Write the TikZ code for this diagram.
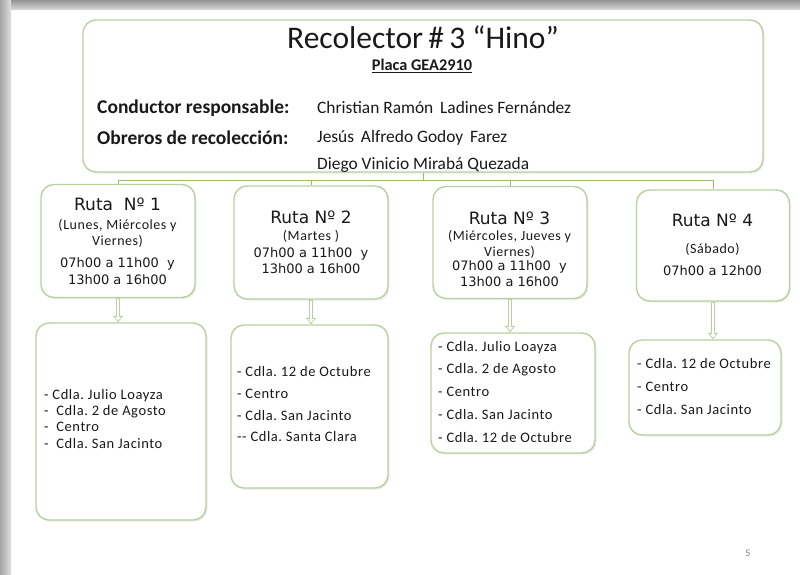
\documentclass[tikz,border=0pt]{standalone}
\usepackage{fontspec}
\setmainfont{Carlito}
\newfontfamily\dv{DejaVu Sans}
\newfontfamily\calsp[LetterSpace=4]{Carlito}
\usetikzlibrary{arrows.meta,shadows}
\definecolor{boxgreen}{RGB}{185,208,160}
\definecolor{linegreen}{RGB}{150,190,110}
\definecolor{txt}{RGB}{25,25,25}
\frenchspacing
\newcommand{\fs}[2]{\fontsize{#1}{#2}\selectfont}
\newcommand{\dys}[1]{{\calsp\fs{14}{16}#1}}
\newcommand{\hrs}[1]{{\dv\fs{13}{15}#1}}
\tikzset{
  rbox/.style={draw=boxgreen, line width=1.4pt, rounded corners=13pt, fill=white,
    drop shadow={opacity=0.15, shadow xshift=1.5pt, shadow yshift=-1.5pt},
    inner sep=0pt},
  rhead/.style={inner sep=0pt, anchor=base, text=txt, font=\dv\fs{17}{18}},
  rtext/.style={inner sep=0pt, anchor=base, text=txt, font=\fs{12}{17}},
  ltext/.style={inner sep=0pt, anchor=base west, text=txt},
  conn/.style={draw=linegreen, line width=0.8pt},
  harrowout/.style={draw=boxgreen, line width=4pt, -{Triangle[width=10pt,length=6.5pt]}},
  harrowin/.style={draw=white, line width=2pt, shorten >=1.6pt, -{Triangle[width=6pt,length=3.6pt]}},
  plain/.style={inner sep=0pt, text=txt},
}
\begin{document}
\begin{tikzpicture}[x=1pt,y=-1pt]
\useasboundingbox (0,0) rectangle (800,574);
\fill[white] (0,0) rectangle (800,574);
\shade[top color=gray!85, bottom color=gray!35] (0,0) rectangle (800,9);
\shade[left color=gray!70, right color=gray!25] (0,0) rectangle (11,574);

% main box
\node[rbox, minimum width=680pt, minimum height=152pt] (main) at (423,96) {};
\node[plain, font=\fs{31.5}{33}] (title) at (423,37) {Recolector\,\#\,3 “Hino”};
\node[plain, font=\bfseries\fs{16.3}{18}] (placa) at (422,66) {\underline{Placa GEA2910}};
\node[plain, anchor=west, font=\bfseries\fs{19.5}{20}] (cl) at (97,108) {Conductor responsable:};
\node[plain, anchor=west, font=\fs{17.4}{19}] (cv) at (317,108) {Christian Ramón\, Ladines Fernández};
\node[plain, anchor=west, font=\bfseries\fs{19.5}{20}] (ol) at (97,138) {Obreros de recolección:};
\node[plain, anchor=west, font=\fs{17.4}{19}] (ov1) at (317,138) {Jesús\, Alfredo Godoy\, Farez};
\node[plain, anchor=west, font=\fs{17.4}{19}] (ov2) at (317,165) {Diego Vinicio Mirabá Quezada};

% ruta boxes
\node[rbox, minimum width=154pt, minimum height=113pt] (r1) at (118,241) {};
\node[rbox, minimum width=154pt, minimum height=113pt] (r2) at (311,242.5) {};
\node[rbox, minimum width=154pt, minimum height=112pt] (r3) at (510,242.5) {};
\node[rbox, minimum width=153pt, minimum height=111pt] (r4) at (713,245.5) {};

\node[rhead] (r1h) at (117.5,210) {Ruta\ \ Nº 1};
\node[rtext] (r1t) at (117.5,229)
 {\begin{tabular}[t]{@{}c@{}}
  \dys{(Lunes, Miércoles y}\\[-1pt]
  \dys{Viernes)}\\[5pt]
  \hrs{07h00 a 11h00\ \ y}\\
  \hrs{13h00 a 16h00}
  \end{tabular}};
\node[rhead] (r2h) at (311,223) {Ruta Nº 2};
\node[rtext] (r2t) at (311,240)
 {\begin{tabular}[t]{@{}c@{}}
  \dys{(Martes )}\\
  \hrs{07h00 a 11h00\ \ y}\\[-1pt]
  \hrs{13h00 a 16h00}
  \end{tabular}};
\node[rhead] (r3h) at (509.5,224) {Ruta Nº 3};
\node[rtext] (r3t) at (509.5,240)
 {\begin{tabular}[t]{@{}c@{}}
  \dys{(Miércoles, Jueves y}\\[-1pt]
  \dys{Viernes)}\\[-3pt]
  \hrs{07h00 a 11h00\ \ y}\\[-1pt]
  \hrs{13h00 a 16h00}
  \end{tabular}};
\node[rhead] (r4h) at (712.5,226) {Ruta Nº 4};
\node[rtext] (r4t) at (712.5,253)
 {\begin{tabular}[t]{@{}c@{}}
  \dys{(Sábado)}\\[5pt]
  \hrs{07h00 a 12h00}
  \end{tabular}};

% connectors
\coordinate (hub) at (423,180);
\draw[conn] (main.south) -- (hub);
\draw[conn] (hub) -| (r1.north);
\draw[conn] (hub) -| (r2.north);
\draw[conn] (hub) -| (r3.north);
\draw[conn] (hub) -| (r4.north);

% list boxes
\node[rbox, minimum width=170pt, minimum height=197pt] (l1) at (121,421.5) {};
\node[rbox, minimum width=157pt, minimum height=163pt] (l2) at (309.5,406.5) {};
\node[rbox, minimum width=164pt, minimum height=120pt] (l3) at (513,393) {};
\node[rbox, minimum width=152pt, minimum height=95pt] (l4) at (705,387.5) {};

\node[ltext, font=\calsp\fs{14.5}{16.4}] (l1t) at (44,399)
 {\begin{tabular}[t]{@{}l@{}}
  - Cdla. Julio Loayza\\
  -\ \ Cdla. 2 de Agosto\\
  -\ \ Centro\\
  -\ \ Cdla. San Jacinto
  \end{tabular}};
\node[ltext, font=\calsp\fs{14.5}{21.7}] (l2t) at (237,376.7)
 {\begin{tabular}[t]{@{}l@{}}
  - Cdla. 12 de Octubre\\
  - Centro\\
  - Cdla. San Jacinto\\
  -{}- Cdla. Santa Clara
  \end{tabular}};
\node[ltext, font=\calsp\fs{14.5}{22.75}] (l3t) at (438,351)
 {\begin{tabular}[t]{@{}l@{}}
  - Cdla. Julio Loayza\\
  - Cdla. 2 de Agosto\\
  - Centro\\
  - Cdla. San Jacinto\\
  - Cdla. 12 de Octubre
  \end{tabular}};
\node[ltext, font=\calsp\fs{14.5}{23}] (l4t) at (637,368)
 {\begin{tabular}[t]{@{}l@{}}
  - Cdla. 12 de Octubre\\
  - Centro\\
  - Cdla. San Jacinto
  \end{tabular}};

% arrows
\foreach \i in {1,2,3,4}{
  \draw[harrowout] (r\i.south) -- (r\i.south |- l\i.north);
  \draw[harrowin] ([yshift=-1pt]r\i.south) -- (r\i.south |- l\i.north);
}

\node[plain, text=gray, font=\fs{10}{12}] (pg) at (748,553) {5};
\end{tikzpicture}
\end{document}
